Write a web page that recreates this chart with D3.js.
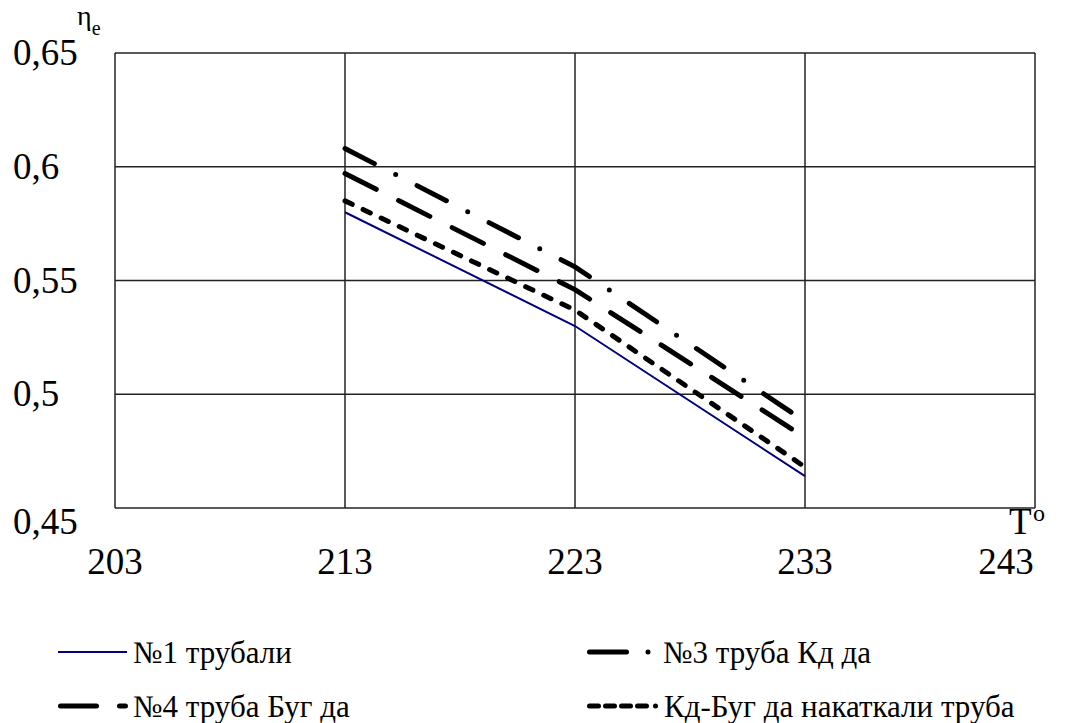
<!DOCTYPE html>
<html>
<head>
<meta charset="utf-8">
<script src="https://cdn.jsdelivr.net/npm/d3@7"></script>
<style>
  @font-face {
    font-family: "ChartSerif";
    src: local("Liberation Serif"), local("LiberationSerif"), local("LiberationSerif-Regular"), local("Liberation Serif Regular"), local("Tinos"), local("Times New Roman");
  }
</style>
</head>
<body style="margin:0">
<script>
const width = 1075, height = 723;
const margin = { top: 53, left: 115, right: 40, bottom: 215 };
const serif = '"Times New Roman", "Liberation Serif", ChartSerif, Tinos, serif';

// data
const temps = [213, 223, 233];
const pipe1 = [0.58, 0.53, 0.464];
const pipe3 = [0.608, 0.556, 0.488];
const pipe4 = [0.597, 0.546, 0.481];
const pipeKB = [0.585, 0.537, 0.468];

const xTicks = [203, 213, 223, 233, 243];
const yTicks = [0.45, 0.5, 0.55, 0.6, 0.65];
const yTickLabels = ["0,45", "0,5", "0,55", "0,6", "0,65"];

const seriesNames = ["№1 трубали", "№3 труба Кд да", "№4 труба Буг да", "Кд-Буг да накаткали труба"];

const series = [
  { name: seriesNames[0], values: pipe1, color: "#000080", w: 2, dash: null, cap: "butt" },
  { name: seriesNames[1], values: pipe3, color: "#000", w: 5, dash: "33,24,0,24", cap: "round" },
  { name: seriesNames[2], values: pipe4, color: "#000", w: 5, dash: "35,25", cap: "round" },
  { name: seriesNames[3], values: pipeKB, color: "#000", w: 5, dash: "8,12", cap: "round" }
];

const svg = d3.select("body").append("svg")
  .attr("width", width)
  .attr("height", height)
  .style("font-family", serif);

const x = d3.scaleLinear().domain([203, 243]).range([margin.left, width - margin.right]);
const y = d3.scaleLinear().domain([0.45, 0.65]).range([height - margin.bottom, margin.top]);

// grid
svg.selectAll("line.vgrid")
  .data(xTicks)
  .join("line")
  .attr("class", "vgrid")
  .attr("x1", d => x(d)).attr("x2", d => x(d))
  .attr("y1", y(0.65)).attr("y2", y(0.45))
  .attr("stroke", "#222")
  .attr("stroke-width", 1.5);

svg.selectAll("line.hgrid")
  .data(yTicks)
  .join("line")
  .attr("class", "hgrid")
  .attr("x1", x(203)).attr("x2", x(243))
  .attr("y1", d => y(d)).attr("y2", d => y(d))
  .attr("stroke", "#222")
  .attr("stroke-width", 1.5);

// y tick labels
svg.selectAll("text.ytick")
  .data(yTicks)
  .join("text")
  .attr("class", "ytick")
  .attr("x", 13)
  .attr("y", (d, i) => y(d) + (i === 0 ? 26 : 12))
  .attr("font-size", 37)
  .style("font-family", serif)
  .text((d, i) => yTickLabels[i]);

// x tick labels
svg.selectAll("text.xtick")
  .data(xTicks)
  .join("text")
  .attr("class", "xtick")
  .attr("x", (d, i) => x(d) - (i === xTicks.length - 1 ? 29 : 0))
  .attr("y", 574)
  .attr("text-anchor", "middle")
  .attr("font-size", 37)
  .style("font-family", serif)
  .text(d => d);

// axis titles
const yt = svg.append("text").attr("x", 77).attr("y", 25)
  .attr("font-size", 28).style("font-family", serif);
yt.append("tspan").text("η");
yt.append("tspan").attr("dy", 10).attr("font-size", 20).text("e");

svg.append("text").attr("x", 1009).attr("y", 534)
  .attr("font-size", 37).style("font-family", serif).text("T");
svg.append("text").attr("x", 1033).attr("y", 521)
  .attr("font-size", 24).style("font-family", serif).text("o");

// lines
const line = d3.line()
  .x((d, i) => x(temps[i]))
  .y(d => y(d));

svg.selectAll("path.series")
  .data(series)
  .join("path")
  .attr("class", "series")
  .attr("d", d => line(d.values))
  .attr("fill", "none")
  .attr("stroke", d => d.color)
  .attr("stroke-width", d => d.w)
  .attr("stroke-linecap", d => d.cap)
  .attr("stroke-dasharray", d => d.dash);

// legend
const legendPos = [
  { x: 58, y: 652, len: 69, tx: 133 },
  { x: 589.5, y: 652, len: 60, tx: 663 },
  { x: 60.5, y: 706, len: 66, tx: 133 },
  { x: 589.5, y: 706, len: 68, tx: 664 }
];
const legendDash = ["", "37,21.5,0,30", "36,23,6,30", "9,7,9,7,9,7,9,9,0,30"];

svg.selectAll("line.legend")
  .data(series)
  .join("line")
  .attr("class", "legend")
  .attr("x1", (d, i) => legendPos[i].x)
  .attr("x2", (d, i) => legendPos[i].x + legendPos[i].len)
  .attr("y1", (d, i) => legendPos[i].y)
  .attr("y2", (d, i) => legendPos[i].y)
  .attr("stroke", d => d.color)
  .attr("stroke-width", d => d.w)
  .attr("stroke-linecap", d => d.cap)
  .attr("stroke-dasharray", (d, i) => legendDash[i] || null);

svg.selectAll("text.legend")
  .data(series)
  .join("text")
  .attr("class", "legend")
  .attr("x", (d, i) => legendPos[i].tx)
  .attr("y", (d, i) => legendPos[i].y + 11)
  .attr("font-size", 31)
  .style("font-family", serif)
  .text(d => d.name);
</script>
</body>
</html>
